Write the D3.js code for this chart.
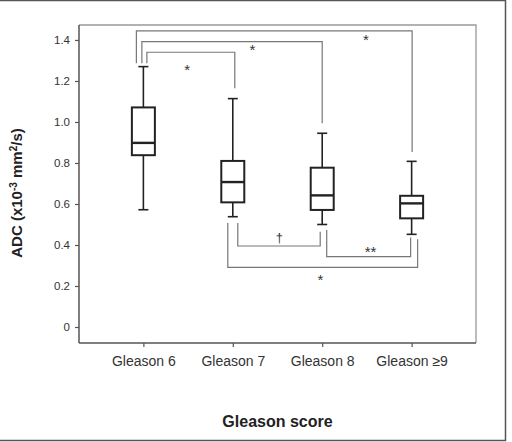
<!DOCTYPE html>
<html>
<head>
<meta charset="utf-8">
<script src="https://cdn.jsdelivr.net/npm/d3@7"></script>
<style>
  body { margin: 0; background: #fff; }
  svg { display: block; font-family: Arial, "Liberation Sans", sans-serif; }
</style>
</head>
<body>
<div id="chart"></div>
<script>
// values (ADC, x10^-3 mm2/s)
const categories = ["Gleason 6", "Gleason 7", "Gleason 8", "Gleason \u22659"];
const whiskerLow = [0.572, 0.538, 0.500, 0.452];
const q1 = [0.838, 0.608, 0.571, 0.530];
const median = [0.898, 0.707, 0.642, 0.603];
const q3 = [1.071, 0.810, 0.777, 0.640];
const whiskerHigh = [1.270, 1.114, 0.945, 0.808];
const yTicks = [0, 0.2, 0.4, 0.6, 0.8, 1.0, 1.2, 1.4];

// significance brackets: from, to, bar level, leg ends (all in ADC units), label
const brackets = [
  { from: 0, to: 3, bar: 1.444, endA: 1.286, endB: 0.854, label: "*" },
  { from: 0, to: 2, bar: 1.392, endA: 1.286, endB: 0.994, label: "*" },
  { from: 0, to: 1, bar: 1.340, endA: 1.286, endB: 1.164, label: "*" },
  { from: 1, to: 2, bar: 0.395, endA: 0.507, endB: 0.465, label: "\u2020" },
  { from: 2, to: 3, bar: 0.343, endA: 0.473, endB: 0.436, label: "**" },
  { from: 1, to: 3, bar: 0.291, endA: 0.507, endB: 0.428, label: "*" }
];

const width = 512, height = 442;
const plot = { left: 79, right: 476, top: 25, bottom: 343 };

const svg = d3.select("#chart").append("svg")
  .attr("width", width)
  .attr("height", height);

// outer figure frame
svg.append("path")
  .attr("d", `M0,0.5 H505.5 V440.5 H0`)
  .attr("fill", "none")
  .attr("stroke", "#555")
  .attr("stroke-width", 1.5);

const x = d3.scalePoint()
  .domain(categories)
  .range([plot.left, plot.right])
  .padding(0.72);

const y = d3.scaleLinear()
  .domain([-0.078, 1.473])
  .range([plot.bottom, plot.top]);

// plot frame
svg.append("path")
  .attr("d", `M${plot.left},${plot.top} H${plot.right} V${plot.bottom}`)
  .attr("fill", "none")
  .attr("stroke", "#999")
  .attr("stroke-width", 1.3);

const yAxis = svg.append("g")
  .attr("transform", `translate(${plot.left},0)`)
  .call(d3.axisLeft(y).tickValues(yTicks).tickSize(4).tickPadding(5)
    .tickFormat(d => d === 0 ? "0" : d3.format(".1f")(d)));
yAxis.select(".domain").attr("stroke", "#555").attr("stroke-width", 1.5)
  .attr("d", `M0,${plot.top}V${plot.bottom}`);
yAxis.selectAll(".tick line").attr("stroke", "#555").attr("stroke-width", 1.2);
yAxis.selectAll(".tick text").attr("font-size", "11.5px").attr("fill", "#333")
  .attr("font-family", "Arial, 'Liberation Sans', sans-serif");

const xAxis = svg.append("g")
  .attr("transform", `translate(0,${plot.bottom})`)
  .call(d3.axisBottom(x).tickSize(4).tickPadding(9));
xAxis.select(".domain").attr("stroke", "#555").attr("stroke-width", 1.5)
  .attr("d", `M${plot.left},0H${plot.right}`);
xAxis.selectAll(".tick line").attr("stroke", "#555").attr("stroke-width", 1.2);
xAxis.selectAll(".tick text").attr("font-size", "14px").attr("fill", "#333")
  .attr("font-family", "Arial, 'Liberation Sans', sans-serif");

// boxes
const boxW = 23, capW = 10;
const boxes = svg.append("g").selectAll("g")
  .data(categories)
  .enter().append("g");

boxes.append("line")
  .attr("x1", d => x(d)).attr("x2", d => x(d))
  .attr("y1", (d, i) => y(whiskerHigh[i])).attr("y2", (d, i) => y(q3[i]))
  .attr("stroke", "#222").attr("stroke-width", 1.6);
boxes.append("line")
  .attr("x1", d => x(d)).attr("x2", d => x(d))
  .attr("y1", (d, i) => y(q1[i])).attr("y2", (d, i) => y(whiskerLow[i]))
  .attr("stroke", "#222").attr("stroke-width", 1.6);
boxes.append("line")
  .attr("x1", d => x(d) - capW / 2).attr("x2", d => x(d) + capW / 2)
  .attr("y1", (d, i) => y(whiskerHigh[i])).attr("y2", (d, i) => y(whiskerHigh[i]))
  .attr("stroke", "#222").attr("stroke-width", 1.6);
boxes.append("line")
  .attr("x1", d => x(d) - capW / 2).attr("x2", d => x(d) + capW / 2)
  .attr("y1", (d, i) => y(whiskerLow[i])).attr("y2", (d, i) => y(whiskerLow[i]))
  .attr("stroke", "#222").attr("stroke-width", 1.6);
boxes.append("rect")
  .attr("x", d => x(d) - boxW / 2)
  .attr("y", (d, i) => y(q3[i]))
  .attr("width", boxW)
  .attr("height", (d, i) => y(q1[i]) - y(q3[i]))
  .attr("fill", "#fff").attr("stroke", "#222").attr("stroke-width", 2);
boxes.append("line")
  .attr("x1", d => x(d) - boxW / 2).attr("x2", d => x(d) + boxW / 2)
  .attr("y1", (d, i) => y(median[i])).attr("y2", (d, i) => y(median[i]))
  .attr("stroke", "#222").attr("stroke-width", 2.4);

// bracket leg offsets from group centres (px); label: fraction along bar, glyph centre offset from bar (px)
const legOffsets = [[-7, 0.5], [-1.5, 0], [3.5, 2], [5, -2], [4.5, -1], [-5, 6]];
const labelSpots = [[0.83, 5.7], [0.61, 5.3], [0.49, 14.4], [0.52, -8.3], [0.54, -7.4], [0.49, 9.4]];

const br = svg.append("g");
brackets.forEach((b, i) => {
  const xa = x(categories[b.from]) + legOffsets[i][0];
  const xb = x(categories[b.to]) + legOffsets[i][1];
  br.append("path")
    .attr("d", `M${xa},${y(b.endA)} V${y(b.bar)} H${xb} V${y(b.endB)}`)
    .attr("fill", "none")
    .attr("stroke", "#777")
    .attr("stroke-width", 1.2);
  const x0 = x(categories[b.from]), x1 = x(categories[b.to]);
  const cy = y(b.bar) + labelSpots[i][1];
  const isDagger = b.label === "\u2020";
  br.append("text")
    .attr("x", x0 + labelSpots[i][0] * (x1 - x0))
    .attr("y", cy + (isDagger ? 4 : 8))
    .attr("text-anchor", "middle")
    .attr("font-size", isDagger ? "13px" : "15px")
    .attr("fill", "#333")
    .text(b.label);
});

// axis titles
svg.append("text")
  .attr("transform", `translate(22,${(plot.top + plot.bottom) / 2 + 9}) rotate(-90)`)
  .attr("text-anchor", "middle")
  .attr("font-size", "15px")
  .attr("font-weight", "bold")
  .attr("fill", "#222")
  .html('ADC (x10<tspan dy="-5" font-size="10px">-3</tspan><tspan dy="5"> mm</tspan><tspan dy="-5" font-size="10px">2</tspan><tspan dy="5">/s)</tspan>');

svg.append("text")
  .attr("x", (plot.left + plot.right) / 2)
  .attr("y", 427)
  .attr("text-anchor", "middle")
  .attr("font-size", "16px")
  .attr("font-weight", "bold")
  .attr("fill", "#222")
  .text("Gleason score");
</script>
</body>
</html>
